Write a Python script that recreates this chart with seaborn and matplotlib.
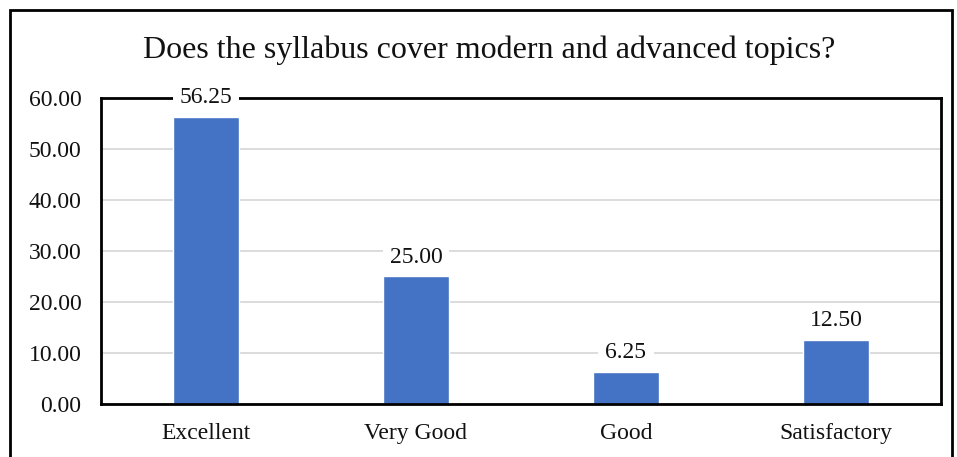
import matplotlib
matplotlib.use('Agg')
import matplotlib.pyplot as plt
import matplotlib.patches as mpatches
import seaborn as sns

categories = ['Excellent', 'Very Good', 'Good', 'Satisfactory']
values = [56.25, 25.00, 6.25, 12.50]
yticks = [0, 10, 20, 30, 40, 50, 60]

sns.set_theme(style='white')
plt.rcParams['font.family'] = ['Liberation Serif', 'DejaVu Serif']

fig = plt.figure(figsize=(9.57, 4.57), dpi=100)
ax = fig.add_axes([0.1055, 0.116, 0.8778, 0.6696])

sns.barplot(x=categories, y=values, color='#4472C4', width=0.315,
            saturation=1, ax=ax, zorder=3)

ax.set_ylim(0, 60)
ax.set_xlim(-0.5, 3.5)
ax.set_yticks(yticks)
ax.set_yticklabels([f'{t:.2f}' for t in yticks], fontsize=17, color='#111111')
ax.tick_params(axis='x', labelsize=17, colors='#111111', pad=14, length=0)
ax.tick_params(axis='y', pad=14, length=0)
ax.yaxis.grid(True, color='#D9D9D9', linewidth=1.3, zorder=0)
ax.set_axisbelow(True)
for s in ax.spines.values():
    s.set_visible(True)
    s.set_color('black')
    s.set_linewidth(2)
    s.set_zorder(4)

for i, v in enumerate(values):
    ax.annotate(f'{v:.2f}', xy=(i, v), xytext=(0, 14), textcoords='offset points',
                ha='center', va='center', fontsize=17, color='#111111', zorder=6,
                bbox=dict(boxstyle='square,pad=0.3', fc='white', ec='none'),
                annotation_clip=False)

fig.text(0.511, 0.8906, 'Does the syllabus cover modern and advanced topics?',
         ha='center', va='center', fontsize=23, color='#111111')

# outer chart border
border = mpatches.Rectangle((10 / 957, -0.05), 942 / 957, 1 - 10 / 457 + 0.05,
                            transform=fig.transFigure, fill=False,
                            edgecolor='black', linewidth=2)
fig.patches.append(border)

fig.savefig('out.png', dpi=100)
